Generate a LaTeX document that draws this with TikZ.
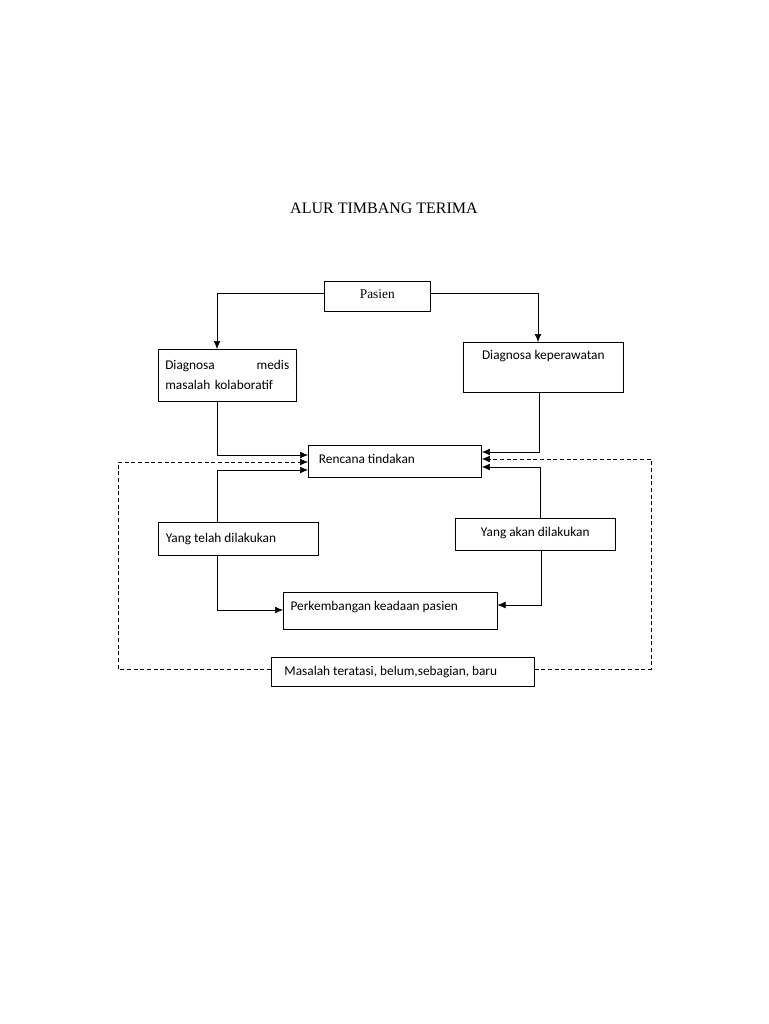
\documentclass[tikz,border=0pt]{standalone}
\usepackage{fontspec}
\setmainfont{Liberation Serif}
\newfontfamily\boxfont{Carlito}
\usetikzlibrary{arrows.meta}
\begin{document}
\begin{tikzpicture}[x=0.75pt,y=-0.75pt,
	box/.style={draw, anchor=north west, inner sep=0pt, font=\boxfont\fontsize{10}{15}\selectfont, align=left},
	arr/.style={-{Latex[length=6pt,width=5pt]}},
	umpan/.style={densely dashed, arr}]
	\useasboundingbox (0,0) rectangle (768,1024);
	\node[font=\fontsize{12}{14}\selectfont] (judul) at (384,208) {ALUR TIMBANG TERIMA};
	\node[box, minimum width=106*0.75pt, minimum height=30*0.75pt, text depth=4pt] (pasien) at (324,281) {\rmfamily Pasien};
	\node[box, minimum width=138*0.75pt, minimum height=52*0.75pt, text width=124*0.75pt] (medis) at (158,349) {Diagnosa \hfill medis\\masalah kolaboratif};
	\node[box, minimum width=160*0.75pt, minimum height=50*0.75pt, text depth=18pt] (kep) at (463,342) {Diagnosa keperawatan};
	\node[box, minimum width=159*0.75pt, minimum height=32*0.75pt, text depth=3pt] (rencana) at (308,445) {\hspace{8pt}Rencana tindakan\hspace{50pt}};
	\node[box, minimum width=160*0.75pt, minimum height=33*0.75pt] (telah) at (158,522) {Yang telah dilakukan\hspace{26pt}};
	\node[box, minimum width=160*0.75pt, minimum height=32*0.75pt, text depth=4pt] (akan) at (455,518) {Yang akan dilakukan};
	\node[box, minimum width=214*0.75pt, minimum height=37*0.75pt, text depth=8pt] (kembang) at (283,592) {Perkembangan keadaan pasien\hspace{24pt}};
	\node[box, minimum width=263*0.75pt, minimum height=29*0.75pt, fill=white] (masalah) at (271,657) {Masalah teratasi, belum,sebagian, baru\hspace{18pt}};
	% alur utama
	\draw[arr] (pasien.west |- 0,293) -| (medis.north -| 217,0);
	\draw[arr] (pasien.east |- 0,293) -| (kep.north -| 538,0);
	\draw[arr] (medis.south -| 217,0) |- (rencana.west |- 0,455);
	\draw[arr] (telah.north -| 217,0) |- (rencana.west |- 0,470);
	\draw[arr] (kep.south -| 539,0) |- (rencana.east |- 0,452);
	\draw[arr] (akan.north -| 540,0) |- (rencana.east |- 0,467);
	\draw[arr] (telah.south -| 217,0) |- (kembang.west |- 0,610);
	\draw[arr] (akan.south -| 541,0) |- (kembang.east |- 0,605);
	% umpan balik
	\draw[umpan] (masalah.west |- 0,669) -| (118,462) -- (rencana.west |- 0,462);
	\draw[umpan] (masalah.east |- 0,669) -| (651,459) -- (rencana.east |- 0,459);
\end{tikzpicture}
\end{document}
